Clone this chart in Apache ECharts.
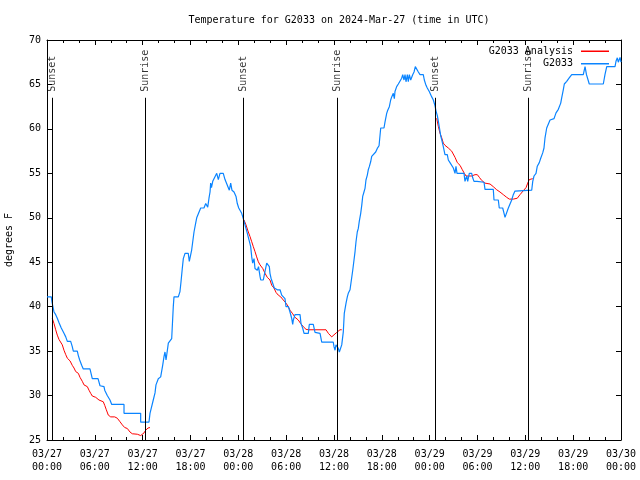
<!DOCTYPE html>
<html>
<head>
<meta charset="utf-8">
<script src="https://cdn.jsdelivr.net/npm/echarts@6/dist/echarts.min.js"></script>
<style>html,body{margin:0;padding:0;background:#fff}#c{width:640px;height:480px}</style>
</head>
<body>
<div id="c"></div>
<script>
// Hours since 2024-03-27 00:00 UTC
var xTickLabels = ['03/27\n00:00','03/27\n06:00','03/27\n12:00','03/27\n18:00','03/28\n00:00','03/28\n06:00','03/28\n12:00','03/28\n18:00','03/29\n00:00','03/29\n06:00','03/29\n12:00','03/29\n18:00','03/30\n00:00'];

var sunHours = [0.67, 12.33, 24.63, 36.42, 48.75, 60.38];
var sunNames = ['Sunset','Sunrise','Sunset','Sunrise','Sunset','Sunrise'];

var blueHours = [0,0.54,0.63,0.88,1.09,1.29,1.51,1.79,2.13,2.35,2.55,2.97,3.17,3.30,3.80,3.93,4.10,4.35,4.55,5.39,5.68,6.40,6.65,7.15,7.24,7.56,7.90,8.12,9.66,9.66,11.75,11.75,12.79,
12.92,13.33,13.55,13.67,13.96,14.26,14.51,14.68,14.80,14.93,15.22,15.64,15.84,15.93,16.47,16.68,16.81,16.97,17.10,17.31,17.72,17.85,18.15,18.28,18.44,18.65,18.78,19.10,19.28,19.69,19.91,20.16,20.32,20.45,20.53,20.63,20.79,20.95,21.29,21.49,21.70,22.11,22.33,22.54,22.87,23.04,23.20,23.46,23.71,23.87,24.05,24.30,24.42,24.62,
24.71,24.96,25.13,25.55,25.68,25.80,25.97,26.09,26.38,26.53,26.72,26.81,27.13,27.38,27.56,27.72,27.89,27.97,28.10,28.31,28.51,28.89,29.23,29.44,29.85,29.98,30.27,30.48,30.69,30.82,30.90,31.11,31.74,31.86,32.07,32.24,32.78,32.90,33.40,33.62,34.25,34.46,35.91,36.00,36.13,36.25,36.41,36.54,36.67,36.84,36.97,37.17,37.29,37.51,37.67,
37.79,38.01,38.22,38.35,38.51,38.64,38.76,38.92,39.05,39.17,39.35,39.48,39.60,39.76,39.89,40.01,40.18,40.30,40.43,40.60,40.73,40.93,41.23,41.43,41.65,41.77,41.86,42.27,42.40,42.61,42.74,42.94,43.11,43.24,43.44,43.57,43.65,43.86,44.07,44.28,44.49,44.62,44.78,44.91,45.03,45.20,45.32,45.45,45.62,45.87,46.04,46.20,46.45,46.58,46.79,47.20,47.33,47.54,47.70,47.95,48.13,48.26,48.46,48.67,48.80,48.96,49.08,49.21,
49.39,49.51,49.71,49.92,50.21,50.34,50.55,50.76,50.97,51.18,51.30,51.43,52.31,52.43,52.65,52.77,52.97,53.27,53.40,53.56,53.94,54.10,54.82,54.94,55.98,56.07,56.61,56.73,57.16,57.33,57.45,57.66,57.87,58.08,58.29,58.49,58.70,58.83,60.80,60.93,61.09,61.34,61.50,61.75,61.93,62.18,62.34,62.47,62.68,62.88,63.10,63.60,63.85,64.14,64.44,64.56,64.76,64.89,65.19,65.48,65.82,67.27,67.49,67.67,68.02,69.78,69.99,70.21,71.25,71.37,71.54,71.66,71.88,72.0];

var blueTemps = [41.1,41.1,40.5,39.4,39.1,38.7,38.2,37.6,37.0,36.6,36.1,36.1,35.5,35.0,35.0,34.5,34.0,33.4,33.0,33.0,31.9,31.9,31.1,31.0,30.6,30.0,29.5,29.0,29.0,28.0,28.0,27.0,27.0,
28.0,29.5,30.3,31.2,31.9,32.1,33.4,34.4,34.9,34.0,35.9,36.4,40.0,41.1,41.1,41.7,42.8,44.3,45.4,46.0,46.0,45.1,46.4,47.3,48.4,49.4,50.0,50.7,51.1,51.1,51.6,51.2,52.2,52.9,53.9,53.4,54.1,54.3,55.0,54.3,55.0,55.0,54.3,54.1,53.1,53.9,53.1,52.9,52.4,51.6,51.1,51.1,50.5,49.9,
49.75,48.8,48.25,46.75,45.6,44.9,45.4,44.3,44.1,44.5,43.4,43.0,43.0,44.1,44.9,45.1,44.5,43.75,43.2,43.0,42.1,41.9,41.9,41.3,40.9,40.0,40.0,39.4,38.7,38.0,38.5,39.1,39.1,38.1,37.6,37.0,37.0,38.0,38.0,37.1,37.0,36.0,36.0,35.5,35.1,35.7,35.7,35.3,34.9,34.9,35.7,37.2,39.25,40.4,41.1,
41.5,41.9,42.1,44.1,45.25,46.2,47.3,48.4,48.8,49.6,50.5,51.4,52.4,52.9,53.3,54.25,54.8,55.4,55.75,56.3,56.9,57.1,57.4,57.8,58.1,58.2,60.1,60.1,60.8,61.75,62.1,62.5,63.25,63.6,64.0,63.4,64.2,64.75,65.05,65.1,65.7,66.1,65.5,66.1,65.3,66.1,65.3,66.1,65.5,66.1,66.4,67.0,67.0,66.4,66.1,66.1,65.5,64.9,64.6,64.2,64.0,63.6,63.25,62.6,62.0,61.5,60.9,60.2,
59.2,58.8,58.0,57.1,57.1,56.5,56.2,56.0,55.6,55.0,55.8,55.0,55.0,54.1,54.7,54.1,55.0,55.0,54.5,54.1,54.1,54.0,54.0,53.2,53.2,52.0,52.0,51.1,51.1,50.5,50.05,50.05,51.1,51.1,52.0,52.6,53.0,53.2,53.1,54.1,54.7,55.0,55.8,56.2,56.7,57.3,57.85,59.0,60.1,60.1,61.0,61.15,61.8,62.2,62.9,63.5,64.4,65.05,65.35,65.7,66.1,66.1,67.0,66.1,65.05,65.05,66.1,67.0,67.0,67.6,68.0,67.5,68.05,67.5];

// null marks a gap in the analysis curve
var analysisHours = [0.66,0.88,1.09,1.29,1.51,1.72,1.92,2.13,2.35,2.55,2.89,3.17,3.39,3.60,3.93,4.14,4.43,4.64,5.06,5.27,5.48,5.68,6.11,6.52,7.06,7.24,7.44,7.69,7.99,8.49,8.82,9.16,9.45,9.75,10.07,10.41,10.70,11.33,11.75,11.95,12.17,12.38,12.67,12.92,
null,
24.71,24.96,25.25,25.46,25.68,25.88,26.09,26.30,26.51,26.72,27.06,27.35,27.63,27.97,28.19,28.47,28.73,29.01,29.32,29.64,29.98,30.27,30.48,30.82,31.11,31.52,31.82,32.15,32.49,32.78,35.00,35.29,35.71,35.88,36.34,36.75,36.97,
null,
48.88,49.08,49.30,49.51,49.71,49.92,50.34,50.76,50.97,51.18,51.47,51.81,52.10,52.35,52.56,52.85,53.27,53.69,53.98,54.23,54.53,54.94,55.57,55.98,56.41,56.82,57.24,57.66,57.99,58.49,58.99,59.33,59.75,60.09,60.30,60.50,60.71,60.93];

var analysisTemps = [38.7,38.1,37.4,36.8,36.3,36.1,35.7,35.1,34.6,34.2,33.9,33.4,33.1,32.7,32.5,32.05,31.6,31.2,31.0,30.6,30.25,29.95,29.8,29.5,29.3,28.9,28.4,27.8,27.6,27.6,27.45,27.05,26.7,26.4,26.3,25.9,25.7,25.65,25.5,25.6,25.8,26.1,26.35,26.4,
null,
49.75,49.2,48.4,47.9,47.3,46.75,46.2,45.6,45.05,44.7,44.3,43.75,43.3,43.0,42.4,42.1,41.6,41.3,41.1,40.75,40.4,40.0,39.6,39.2,38.8,38.5,38.1,37.75,37.45,37.4,37.4,37.0,36.6,36.5,37.1,37.4,37.4,
null,
61.2,60.3,59.5,59.0,58.4,58.15,57.85,57.5,57.3,56.8,56.2,55.9,55.4,55.0,54.7,54.7,54.7,54.85,54.85,54.55,54.2,53.9,53.8,53.5,53.15,52.9,52.6,52.3,52.1,52.1,52.2,52.6,53.05,53.4,53.9,54.3,54.5,54.4];

var sunLineTop = 63.5;
var yMin = 25, yMax = 70;

var FONT = 'DejaVu Sans Mono';

function pairs(xs, ys) {
  var out = [];
  for (var i = 0; i < xs.length; i++) {
    if (xs[i] === null || ys[i] === null) out.push(['-', '-']);
    else out.push([xs[i], ys[i]]);
  }
  return out;
}

var blueData = pairs(blueHours, blueTemps);
var redData = pairs(analysisHours, analysisTemps);
var sunLabelData = sunHours.map(function (h, i) { return { name: sunNames[i], value: [h, sunLineTop] }; });
var sunLines = sunHours.map(function (h) { return [{ coord: [h, yMin] }, { coord: [h, sunLineTop] }]; });

var tickCommon = { show: true, inside: true, length: 5, lineStyle: { color: '#000', width: 1 } };
var minorCommon = { show: true, splitNumber: 3, length: 3, lineStyle: { color: '#000', width: 1 } };

var chart = echarts.init(document.getElementById('c'), null, { renderer: 'canvas' });
chart.setOption({
  animation: false,
  backgroundColor: '#fff',
  title: {
    text: 'Temperature for G2033 on 2024-Mar-27 (time in UTC)',
    left: 334, top: 10, textAlign: 'center',
    textStyle: { fontFamily: FONT, fontSize: 10, fontWeight: 'normal', color: '#000' }
  },
  legend: {
    right: 26, top: 40, orient: 'vertical', align: 'right',
    icon: 'rect', itemWidth: 28, itemHeight: 1.5, itemGap: 0,
    textStyle: { fontFamily: FONT, fontSize: 10, color: '#000', lineHeight: 12.5, padding: [0, 3, 0, 0] },
    data: ['G2033 Analysis', 'G2033']
  },
  grid: { left: 47, right: 19, top: 40, bottom: 40, containLabel: false, outerBoundsMode: 'none' },
  xAxis: [
    {
      type: 'value', min: 0, max: 72, interval: 6, position: 'bottom',
      axisLine: { show: true, onZero: false, lineStyle: { color: '#000', width: 1 } },
      axisTick: tickCommon, minorTick: minorCommon,
      splitLine: { show: false },
      axisLabel: {
        margin: 8, fontFamily: FONT, fontSize: 10, color: '#000', lineHeight: 13,
        formatter: function (v) { return xTickLabels[Math.round(v / 6)]; }
      }
    },
    {
      type: 'value', min: 0, max: 72, interval: 6, position: 'top',
      axisLine: { show: true, onZero: false, lineStyle: { color: '#000', width: 1 } },
      axisTick: tickCommon, minorTick: minorCommon,
      splitLine: { show: false }, axisLabel: { show: false }
    }
  ],
  yAxis: [
    {
      type: 'value', min: yMin, max: yMax, interval: 5, position: 'left',
      name: 'degrees F', nameLocation: 'middle', nameGap: 33, nameRotate: 90,
      nameTextStyle: { fontFamily: FONT, fontSize: 10, color: '#000' },
      axisLine: { show: true, onZero: false, lineStyle: { color: '#000', width: 1 } },
      axisTick: tickCommon, splitLine: { show: false },
      axisLabel: { margin: 6, fontFamily: FONT, fontSize: 10, color: '#000' }
    },
    {
      type: 'value', min: yMin, max: yMax, interval: 5, position: 'right',
      axisLine: { show: true, onZero: false, lineStyle: { color: '#000', width: 1 } },
      axisTick: tickCommon, splitLine: { show: false }, axisLabel: { show: false }
    }
  ],
  series: [
    {
      name: 'Sun', type: 'scatter', symbolSize: 0, data: sunLabelData, z: 1,
      label: {
        show: true, formatter: '{b}', rotate: 90, position: [0, -6],
        align: 'left', verticalAlign: 'middle',
        fontFamily: FONT, fontSize: 10, color: '#000'
      },
      markLine: {
        silent: true, symbol: ['none', 'none'], animation: false,
        label: { show: false },
        lineStyle: { color: '#000', width: 1, type: 'solid' },
        data: sunLines
      }
    },
    {
      name: 'G2033 Analysis', type: 'line', data: redData, symbol: 'none', connectNulls: false,
      lineStyle: { color: '#ff0000', width: 1 }, itemStyle: { color: '#ff0000' }, z: 3
    },
    {
      name: 'G2033', type: 'line', data: blueData, symbol: 'none',
      lineStyle: { color: '#0a84ff', width: 1.2 }, itemStyle: { color: '#0a84ff' }, z: 4
    }
  ]
});
</script>
</body>
</html>
